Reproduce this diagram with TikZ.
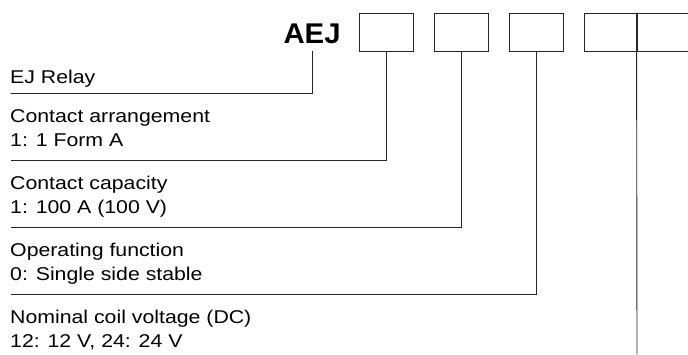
\documentclass[tikz,border=0pt]{standalone}
\usepackage{fontspec}
\newfontfamily\lblfont{Liberation Sans}[FakeStretch=1.15]
\newfontfamily\codefont{Liberation Sans}[FakeStretch=1.03]
\begin{document}
\begin{tikzpicture}[x=1pt,y=-1pt,
  lbl/.style={anchor=base west,inner sep=0pt,font=\lblfont\fontsize{18.5}{24}\selectfont,text=black},
  code/.style={anchor=base west,inner sep=0pt,font=\codefont\bfseries\fontsize{28.5}{30}\selectfont},
  digit/.style={draw=black!85,line width=0.9pt,rectangle,inner sep=0pt,minimum width=54pt,minimum height=38pt},
  lead/.style={draw=black!85,line width=0.9pt}]
\useasboundingbox (0,0) rectangle (688,354);
\node[code] (aej) at (283.3,43.3) {AEJ};
\node[digit] (b1) at (386,32) {};
\node[digit] (b2) at (461,32) {};
\node[digit] (b3) at (536,32) {};
\node[digit,minimum width=53pt] (b4) at (610.5,32) {};
\node[digit,minimum width=53pt] (b5) at (663.5,32) {};
\coordinate (e0) at (10.7,93.3);
\coordinate (e1) at (10.7,160);
\coordinate (e2) at (10.7,227);
\coordinate (e3) at (10.7,294);
\coordinate (eb) at (637,354);
\node[lbl] (t0) at (10,83.3) {EJ Relay};
\node[lbl] (t1a) at (10,122.5) {Contact arrangement};
\node[lbl] (t1b) at (10,146.5) {1: 1 Form A};
\node[lbl] (t2a) at (10,189.5) {Contact capacity};
\node[lbl] (t2b) at (10,213.5) {1: 100 A (100 V)};
\node[lbl] (t3a) at (10,256.5) {Operating function};
\node[lbl] (t3b) at (10,280.5) {0: Single side stable};
\node[lbl] (t4a) at (10,323.5) {Nominal coil voltage (DC)};
\node[lbl] (t4b) at (10,347.5) {12: 12 V, 24: 24 V};
\draw[lead] ([yshift=-7.7pt]aej.south) |- (e0);
\draw[lead] (b1.south) |- (e1);
\draw[lead] (b2.south) |- (e2);
\draw[lead] (b3.south) |- (e3);
\draw[lead] (b5.north west) -- (eb);
\end{tikzpicture}
\end{document}
